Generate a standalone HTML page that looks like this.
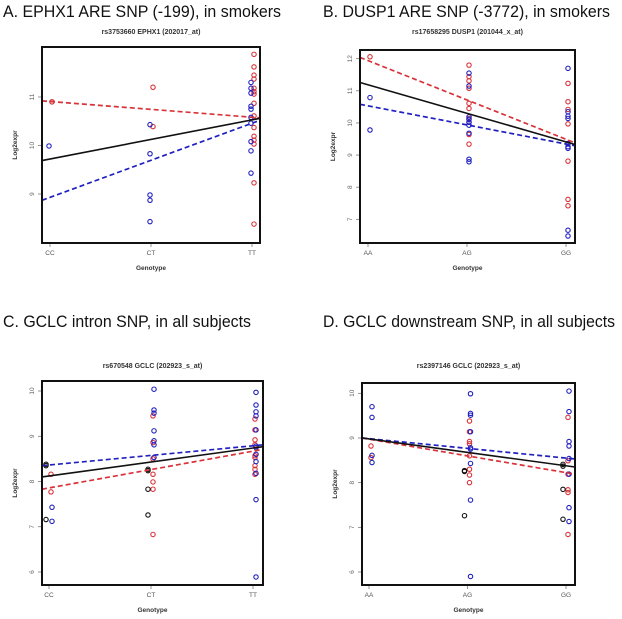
<!DOCTYPE html>
<html><head><meta charset="utf-8"><style>
html,body{margin:0;padding:0;background:#fff;}
svg{display:block;font-family:"Liberation Sans",Arial,sans-serif;}
</style></head><body>
<svg id="fig" width="622" height="619" viewBox="0 0 622 619"></svg>
<script>
// ---------- Panel A data ----------
const aCats = ["CC","CT","TT"];
const aTicks = [9,10,11];
const aRedCat = [0,0,1,1,2,2,2,2,2,2,2,2,2,2,2,2,2,2,2];
const aRedVal = [10.9,10.9,11.2,10.39,11.88,11.62,11.45,11.37,11.18,11.11,11.06,10.87,10.61,10.37,10.19,10.11,10.03,9.23,8.38];
const aBlueCat = [0,1,1,1,1,1,2,2,2,2,2,2,2,2,2,2];
const aBlueVal = [9.99,10.43,9.83,8.98,8.87,8.43,11.3,11.18,11.08,10.81,10.75,10.58,10.46,10.08,9.89,9.43];
const aBlackCat = [];
const aBlackVal = [];
const aRedFit = [10.92,10.57];
const aBlueFit = [8.87,10.52];
const aBlackFit = [9.69,10.56];
// ---------- Panel B data ----------
const bCats = ["AA","AG","GG"];
const bTicks = [7,8,9,10,11,12];
const bRedCat = [0,1,1,1,1,1,1,1,1,1,1,2,2,2,2,2,2,2,2];
const bRedVal = [12.06,11.8,11.44,11.31,11.08,10.61,10.45,10.14,10.02,9.64,9.34,11.23,10.66,10.42,9.97,9.36,8.81,7.62,7.42];
const bBlueCat = [0,0,1,1,1,1,1,1,1,1,1,2,2,2,2,2,2,2,2,2];
const bBlueVal = [10.79,9.78,11.55,11.15,10.19,10.11,10.02,9.93,9.68,8.87,8.79,11.7,10.35,10.21,10.14,9.36,9.26,9.21,6.66,6.48];
const bBlackCat = [];
const bBlackVal = [];
const bRedFit = [12.04,9.38];
const bBlueFit = [10.58,9.29];
const bBlackFit = [11.26,9.33];
// ---------- Panel C data ----------
const cCats = ["CC","CT","TT"];
const cTicks = [6,7,8,9,10];
const cRedCat = [0,0,1,1,1,1,1,1,1,2,2,2,2,2,2,2,2,2];
const cRedVal = [8.16,7.77,9.45,8.86,8.5,8.16,7.99,7.83,6.83,9.38,9.14,8.92,8.81,8.57,8.53,8.35,8.27,8.16];
const cBlueCat = [0,0,1,1,1,1,1,1,1,2,2,2,2,2,2,2,2,2,2,2,2];
const cBlueVal = [7.43,7.12,10.04,9.58,9.51,9.12,8.9,8.81,8.53,9.97,9.69,9.54,9.45,9.14,8.78,8.75,8.6,8.44,8.18,7.6,5.89];
const cBlackCat = [0,0,0,1,1,1,1];
const cBlackVal = [8.38,8.35,7.16,8.27,8.24,7.83,7.26];
const cRedFit = [7.83,8.71];
const cBlueFit = [8.35,8.81];
const cBlackFit = [8.1,8.77];
// ---------- Panel D data ----------
const dCats = ["AA","AG","GG"];
const dTicks = [6,7,8,9,10];
const dRedCat = [0,0,1,1,1,1,1,1,1,1,2,2,2,2,2,2];
const dRedVal = [8.82,8.56,9.38,9.14,8.92,8.87,8.6,8.3,8.17,8.0,9.46,8.49,8.19,7.84,7.78,6.84];
const dBlueCat = [0,0,0,0,1,1,1,1,1,1,1,1,1,2,2,2,2,2,2,2,2];
const dBlueVal = [9.7,9.46,8.61,8.45,9.99,9.55,9.51,9.14,8.78,8.75,8.43,7.61,5.9,10.05,9.59,8.92,8.82,8.54,8.19,7.44,7.13];
const dBlackCat = [1,1,1,2,2,2,2];
const dBlackVal = [8.27,8.25,7.26,8.41,8.37,7.85,7.18];
const dRedFit = [9.0,8.19];
const dBlueFit = [9.0,8.53];
const dBlackFit = [9.0,8.35];

const NS = "http://www.w3.org/2000/svg";
const svg = document.getElementById("fig");
function mk(tag, attrs, parent){ const e=document.createElementNS(NS,tag); for(const k in attrs) e.setAttribute(k,attrs[k]); (parent||svg).appendChild(e); return e; }

const RED="#d8333a", BLUE="#2020c0", BLACK="#111";

function panel(p){
  const g = mk("g",{});
  
  
  const yS = v => p.tyA + (v - p.tvA) * (p.tyB - p.tyA) / (p.tvB - p.tvA);
  const xS = i => p.cx0 + i * (p.cx2 - p.cx0) / 2;
  const h = mk("text",{x:p.hx,y:p.hy,"font-size":17,fill:"#111",textLength:p.hw,lengthAdjust:"spacingAndGlyphs"},g);
  h.textContent = p.heading;
  
  
  const t = mk("text",{x:(p.x0+p.x1)/2,y:p.ty,"font-size":7,"font-weight":"bold",fill:"#333","text-anchor":"middle"},g);
  t.textContent = p.title;
  
  
  p.ticks.forEach(v=>{
    const y=yS(v);
    const tk = mk("line",{x1:p.x0-4,x2:p.x0,y1:y,y2:y,stroke:"#666","stroke-width":0.7},g);
    
    
    const lb = mk("text",{x:p.x0-8,y:y,"font-size":6.5,fill:"#666","text-anchor":"middle",transform:`rotate(-90 ${p.x0-8} ${y})`},g);
    lb.textContent = v;
    
    
  });
  p.cats.forEach((c,i)=>{
    const x=xS(i);
    const tk = mk("line",{x1:x,x2:x,y1:p.y1,y2:p.y1+4,stroke:"#666","stroke-width":0.7},g);
    
    
    const lb = mk("text",{x:x,y:p.y1+12,"font-size":6.5,fill:"#555","text-anchor":"middle"},g);
    lb.textContent = c;
    
    
  });
  const xt = mk("text",{x:(p.x0+p.x1)/2,y:p.y1+27,"font-size":6.5,"font-weight":"bold",fill:"#333","text-anchor":"middle"},g);
  xt.textContent = "Genotype";
  
  
  const yx=p.x0-25, yy=(p.y0+p.y1)/2;
  const yt = mk("text",{x:yx,y:yy,"font-size":6.5,"font-weight":"bold",fill:"#333","text-anchor":"middle",transform:`rotate(-90 ${yx} ${yy})`},g);
  yt.textContent = "Log2expr";
  
  
  const series = [[p.redCat,p.redVal,RED,2,"red-point"],[p.blueCat,p.blueVal,BLUE,p.blueOff,"blue-point"],[p.blackCat,p.blackVal,BLACK,-3,"black-point"]];
  series.forEach(([cats,vals,col,off,name])=>{
    vals.forEach((v,i)=>{
      const c = mk("circle",{cx:xS(cats[i])+off,cy:yS(v),r:2.2,fill:"none",stroke:col,"stroke-width":1.1},g);
      
      
    });
  });
  const fits=[[p.redFit,RED,"5 3",1.7,"red-fit-line"],[p.blueFit,BLUE,"5 3",1.7,"blue-fit-line"],[p.blackFit,BLACK,null,1.6,"black-fit-line"]];
  fits.forEach(([f,col,dash,w,name])=>{
    const a={x1:p.x0,y1:yS(f[0]),x2:p.x1,y2:yS(f[1]),stroke:col,"stroke-width":w};
    if(dash) a["stroke-dasharray"]=dash;
    const l = mk("line",a,g);
    
    
  });
  const box = mk("rect",{x:p.x0,y:p.y0,width:p.x1-p.x0,height:p.y1-p.y0,fill:"none",stroke:"#111","stroke-width":2},g);
  
  
}

panel({id:"panel-a",heading:"A. EPHX1 ARE SNP (-199), in smokers",hx:3,hy:17,hw:278,title:"rs3753660 EPHX1 (202017_at)",ty:34,
  x0:42,x1:260,y0:47,y1:243,tvA:11,tyA:97,tvB:9,tyB:194,cx0:50,cx2:252,cats:aCats,ticks:aTicks,blueOff:-1,
  redCat:aRedCat,redVal:aRedVal,blueCat:aBlueCat,blueVal:aBlueVal,blackCat:aBlackCat,blackVal:aBlackVal,
  redFit:aRedFit,blueFit:aBlueFit,blackFit:aBlackFit});
panel({id:"panel-b",heading:"B. DUSP1 ARE SNP (-3772), in smokers",hx:323,hy:17,hw:287,title:"rs17658295 DUSP1 (201044_x_at)",ty:34,
  x0:360,x1:575,y0:50,y1:243,tvA:12,tyA:58.7,tvB:7,tyB:219.3,cx0:368,cx2:566,cats:bCats,ticks:bTicks,blueOff:2,
  redCat:bRedCat,redVal:bRedVal,blueCat:bBlueCat,blueVal:bBlueVal,blackCat:bBlackCat,blackVal:bBlackVal,
  redFit:bRedFit,blueFit:bBlueFit,blackFit:bBlackFit});
panel({id:"panel-c",heading:"C. GCLC intron SNP, in all subjects",hx:3,hy:327,hw:248,title:"rs670548 GCLC (202923_s_at)",ty:368,
  x0:42,x1:263,y0:381,y1:585,tvA:10,tyA:391,tvB:6,tyB:572,cx0:49,cx2:253,cats:cCats,ticks:cTicks,blueOff:3,
  redCat:cRedCat,redVal:cRedVal,blueCat:cBlueCat,blueVal:cBlueVal,blackCat:cBlackCat,blackVal:cBlackVal,
  redFit:cRedFit,blueFit:cBlueFit,blackFit:cBlackFit});
panel({id:"panel-d",heading:"D. GCLC downstream SNP, in all subjects",hx:323,hy:327,hw:292,title:"rs2397146 GCLC (202923_s_at)",ty:368,
  x0:362,x1:575,y0:383,y1:585,tvA:10,tyA:393.3,tvB:6,tyB:572,cx0:369,cx2:566,cats:dCats,ticks:dTicks,blueOff:3,
  redCat:dRedCat,redVal:dRedVal,blueCat:dBlueCat,blueVal:dBlueVal,blackCat:dBlackCat,blackVal:dBlackVal,
  redFit:dRedFit,blueFit:dBlueFit,blackFit:dBlackFit});
</script>
</body></html>
